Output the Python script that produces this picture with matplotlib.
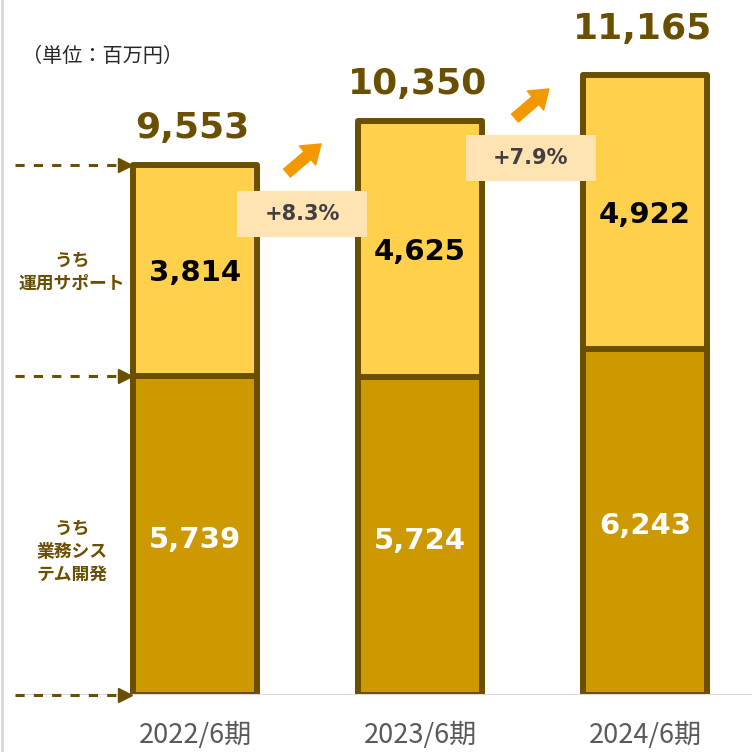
import matplotlib.pyplot as plt
from matplotlib.lines import Line2D
from matplotlib.patches import Rectangle

plt.rcParams['font.family'] = ['DejaVu Sans', 'Noto Sans CJK JP']

# データ（単位：百万円）
periods = ['2022/6期', '2023/6期', '2024/6期']
system_dev = [5739, 5724, 6243]     # うち業務システム開発
ops_support = [3814, 4625, 4922]    # うち運用サポート
totals = [9553, 10350, 11165]
growth = ['+8.3%', '+7.9%']

C_TOP = '#FFD04B'
C_BOT = '#CC9900'
C_EDGE = '#6B4F00'
C_ARROW = '#F39800'
C_BOX = '#FFE3B2'
JP = ['Noto Sans CJK JP', 'DejaVu Sans']

fig = plt.figure(figsize=(7.52, 7.52), dpi=100)
base_px = 695
ax = fig.add_axes([0, (752 - base_px) / 752, 1, base_px / 752])
ax.set_xlim(-195 / 225, (752 - 195) / 225)
ax.set_ylim(0, base_px / 0.0555)
for s in ax.spines.values():
    s.set_visible(False)
ax.set_yticks([])

x = range(len(periods))
w = 124 / 225
ax.bar(x, system_dev, width=w, color=C_BOT, edgecolor=C_EDGE, linewidth=4.3,
       joinstyle='round', zorder=2)
ax.bar(x, ops_support, bottom=system_dev, width=w, color=C_TOP, edgecolor=C_EDGE,
       linewidth=4.3, joinstyle='round', zorder=2)
ax.axhline(0, xmin=20 / 752, xmax=1, color='#D9D9D9', lw=1.5, zorder=3)

ax.set_xticks(list(x))
ax.set_xticklabels(periods, fontsize=19.5, color='#595959', family=JP)
ax.tick_params(axis='x', length=0, pad=19.5)

total_offset = [19, 19, 26]
for i in x:
    ax.annotate(f'{totals[i]:,}', xy=(i, totals[i]), xytext=(-2, total_offset[i]),
                textcoords='offset points', ha='center', va='baseline',
                fontsize=26, fontweight='bold', color=C_EDGE)
    ax.text(i, system_dev[i] + ops_support[i] / 2 - 50, f'{ops_support[i]:,}',
            ha='center', va='center', fontsize=21, fontweight='bold', color='black', zorder=4)
    ax.text(i, system_dev[i] / 2 - 80, f'{system_dev[i]:,}',
            ha='center', va='center', fontsize=21, fontweight='bold', color='white', zorder=4)

# 伸び率ボックスと矢印
box_pos = [(0.476, 8667), (1.493, 9676)]
arrow_pos = [((0.409, 9405), (0.56, 9928)), ((1.422, 10396), (1.573, 10919))]
bw, bh = 130 / 225, 46 / 0.0555
for (bx, by), (tail, tip), g in zip(box_pos, arrow_pos, growth):
    ax.add_patch(Rectangle((bx - bw / 2, by - bh / 2), bw, bh, facecolor=C_BOX,
                           edgecolor='none', zorder=5))
    ax.text(bx, by, g, ha='center', va='center', fontsize=15, fontweight='bold',
            color='#404040', zorder=6)
    ax.annotate('', xy=tip, xytext=tail,
                arrowprops=dict(arrowstyle='simple,head_width=1.2,head_length=0.85,tail_width=0.5',
                                color=C_ARROW, mutation_scale=15, shrinkA=0, shrinkB=0),
                zorder=6)

# 左側の破線矢印
x0, x1 = -180 / 225, -70 / 225
for yv in [totals[0], system_dev[0], 0]:
    ax.plot([x0, x1], [yv, yv], ls=(0, (3, 3)), color=C_EDGE, lw=2.2, zorder=3, clip_on=False)
    ax.plot([x1], [yv], marker='>', ms=10, color=C_EDGE, zorder=3, clip_on=False)

ax.text(-0.547, system_dev[0] + ops_support[0] / 2 - 30, 'うち\n運用サポート', ha='center', va='center',
        fontsize=12.8, fontweight='bold', color=C_EDGE, family=JP, linespacing=1.35)
ax.text(-0.547, system_dev[0] * 0.45, 'うち\n業務シス\nテム開発', ha='center', va='center',
        fontsize=12.8, fontweight='bold', color=C_EDGE, family=JP, linespacing=1.35)

fig.text(22 / 752, 1 - 57 / 752, '（単位：百万円）', ha='left', va='center', fontsize=14.5,
         color='#262626', family=JP)
fig.add_artist(Line2D([0.002, 0.002], [0, 1], color='#D9D9D9', lw=2))

fig.savefig('out.png', dpi=100)
